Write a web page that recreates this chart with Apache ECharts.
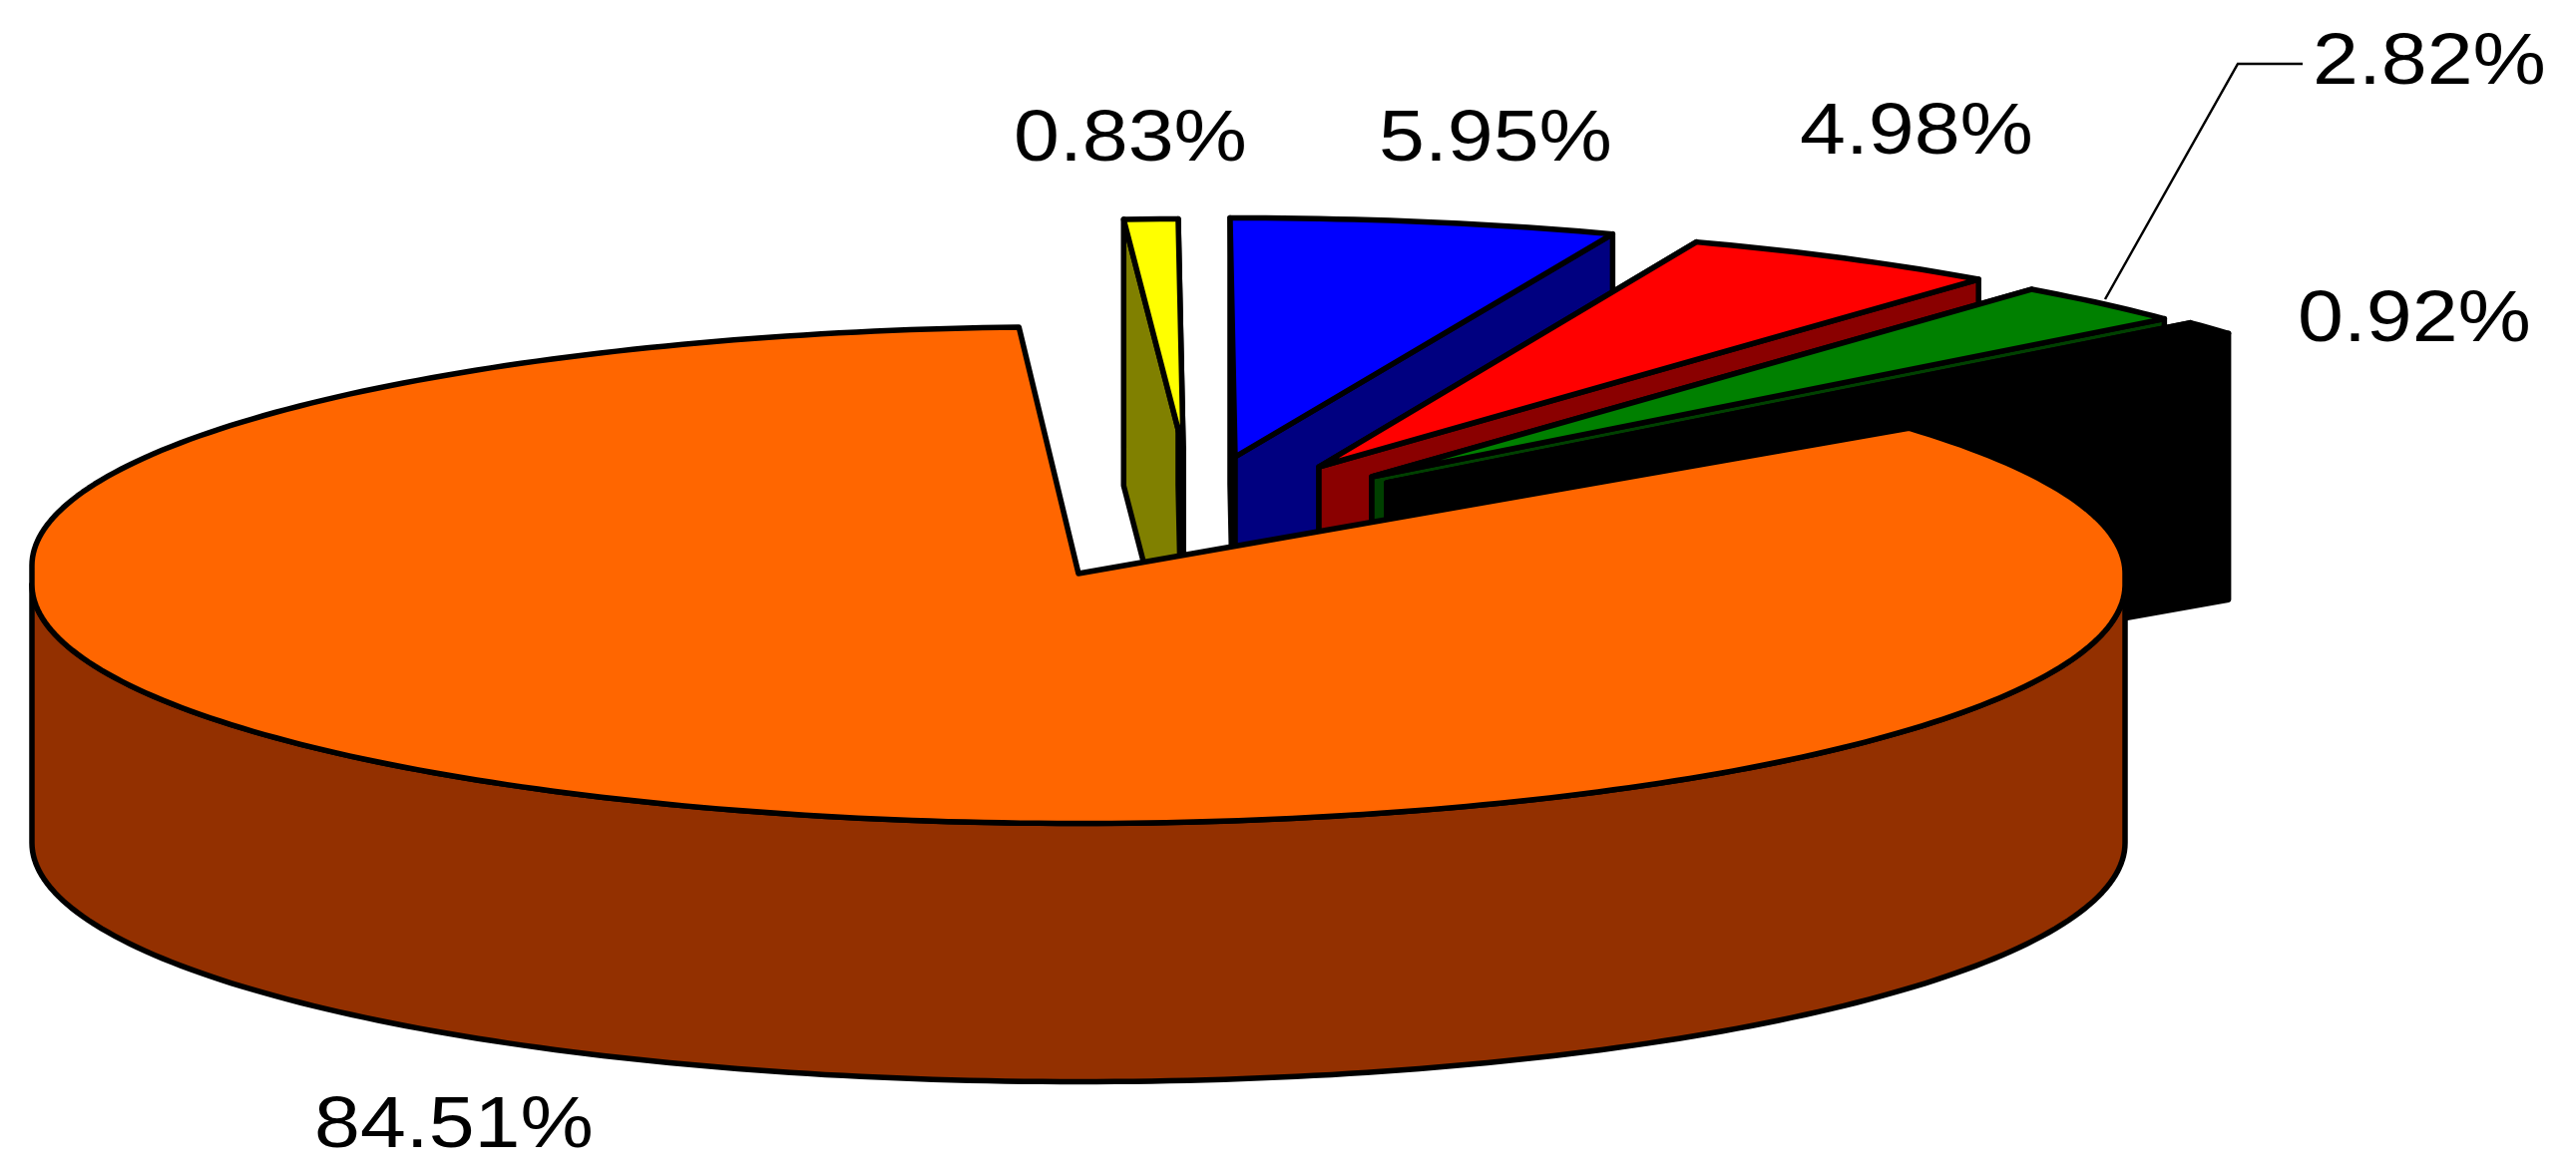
<!DOCTYPE html>
<html><head><meta charset="utf-8">
<style>html,body{margin:0;padding:0;background:#fff}#c{width:2582px;height:1177px}</style>
<script src="https://cdn.jsdelivr.net/npm/echarts@6/dist/echarts.min.js"></script>
</head><body><div id="c"></div>
<script>
// Data: share of each slice in percent, clockwise from the orange slice
const sliceValues = [84.51, 0.83, 5.95, 4.98, 2.82, 0.92];
const sliceColors = ['#ff6600', '#ffff00', '#0000ff', '#ff0000', '#008000', '#000000'];
const sideColors  = ['#933000', '#808000', '#000080', '#8a0000', '#004000', '#000000'];
// Explosion of each slice (rim centre offset and tip offset, px)
const explodeX = [0, 105, 157, 241, 294, 320];
const explodeY = [0, -108, -109, -101, -91, -87];
const tipShift = [0, 0, 0, 0, 0, -11];
const tipDrop  = [8, -9, 0, 2, 2, 4];
// Label anchors (left edge, baseline, px)
const labelX = [315, 1016, 1382, 1804, 2318, 2303];
const labelY = [1151, 162, 162, 155, 85, 343];

const CX = 1081, CY = 567, RX = 1049, RY = 239.5, STRAIGHT = 19, SHOULDER = 8;
const DEPTH_BACK = 267, DEPTH_FRONT = 259, START = 52.5;
const LINE = 5.5, FONT = 73, STRETCH = 1.13;
const rad = d => d * Math.PI / 180;
const starts = [];
sliceValues.reduce((a, v, i) => { starts[i] = a; return a + v * 3.6; }, START);

function renderItem(params, api) {
  const i = api.value(0), v = api.value(1);
  const a0 = starts[i], a1 = a0 + v * 3.6;
  const cx = CX + explodeX[i], cy = CY + explodeY[i];
  const tip = [cx + tipShift[i], cy + tipDrop[i]];
  // The rim is two half ellipses joined by short straight sides;
  // the big slice's right shoulder sits slightly lower
  const shoulder = a => (i === 0 && a <= 90) ? SHOULDER : 0;
  const pt = (a, low) => [cx + RX * Math.sin(rad(a)),
    cy + (low ? STRAIGHT : shoulder(a)) - RY * Math.cos(rad(a))];
  const arc = (s, e) => {
    const o = [], n = Math.max(2, Math.ceil(e - s));
    for (let k = 0; k <= n; k++) {
      const a = s + (e - s) * k / n, next = s + (e - s) * (k + 1) / n;
      const low = a > 90 && a < 270;
      o.push(pt(a, low));
      if (k < n) {
        if (a < 90 && next > 90) { o.push(pt(90, false), pt(90, true)); }
        if (a < 270 && next > 270) { o.push(pt(270, true), pt(270, false)); }
      }
    }
    return o;
  };
  const back = p => [p[0], p[1] + DEPTH_BACK];
  const shape = (pts, fill) => ({ type: 'polygon', shape: { points: pts },
    style: { fill, stroke: '#000', lineWidth: LINE, lineJoin: 'round' } });
  const kids = [];
  const r0 = pt(a0, false), r1 = pt(a1, false);
  // radial walls (the big slice hides its own behind its top face)
  if (i !== 0) {
    kids.push(shape([tip, r0, back(r0), back(tip)], sideColors[i]));
    kids.push(shape([tip, r1, back(r1), back(tip)], sideColors[i]));
  }
  // outer curved wall where it faces the viewer (90..270 deg)
  const f0 = Math.max(a0, 90), f1 = Math.min(a1, 270);
  if (f1 > f0) {
    const t = [];
    for (let a = f0; a <= f1; a += 1) t.push(pt(a, true));
    kids.push(shape(t.concat(t.map(p => [p[0], p[1] + DEPTH_FRONT]).reverse()), sideColors[i]));
  }
  // top face
  kids.push(shape([tip].concat(arc(a0, a1)), sliceColors[i]));
  return { type: 'group', children: kids };
}

// paint back to front: the big slice last
const paintOrder = [1, 2, 3, 4, 5, 0];

const chart = echarts.init(document.getElementById('c'));
chart.setOption({
  animation: false,
  backgroundColor: '#fff',
  series: [{
    type: 'custom',
    coordinateSystem: 'none',
    silent: true,
    renderItem,
    data: paintOrder.map(i => [i, sliceValues[i]])
  }, {
    type: 'custom',
    coordinateSystem: 'none',
    silent: true,
    renderItem: (p, api) => {
      const i = api.value(0);
      return { type: 'text', x: labelX[i], y: labelY[i] + FONT * 0.21, scaleX: STRETCH,
        style: { text: api.value(1).toFixed(2) + '%', fill: '#000', verticalAlign: 'bottom',
          font: FONT + 'px "Liberation Sans", Arial, sans-serif' } };
    },
    data: sliceValues.map((v, i) => [i, v])
  }],
  graphic: [{ type: 'polyline', shape: { points: [[2110, 300], [2243, 64], [2308, 64]] },
    style: { stroke: '#000', lineWidth: 2.5, fill: null } }]
});
</script></body></html>
